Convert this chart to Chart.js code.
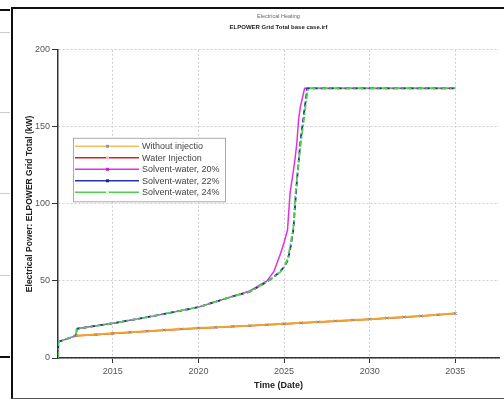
<!DOCTYPE html>
<html>
<head>
<meta charset="utf-8">
<script src="https://cdn.jsdelivr.net/npm/chart.js@4.4.1/dist/chart.umd.min.js"></script>
<style>
  html, body { margin: 0; padding: 0; background: #fff; }
  body { width: 504px; height: 399px; overflow: hidden; position: relative; }
  .frame { position: absolute; left: 11px; top: 7px; width: 500px; height: 389px;
           border-top: 2px solid #111; border-left: 2px solid #111; border-bottom: 1px solid #555; }
  .tab { position: absolute; left: 0; width: 10px; height: 1px; background: #ccc; }
  .tab.dark { background: #111; height: 2px; }
  #wrap { position: absolute; left: 0; top: 0; width: 504px; height: 399px; }
</style>
</head>
<body>
<div class="tab dark" style="top:9px"></div>
<div class="tab" style="top:32px"></div>
<div class="tab" style="top:112px"></div>
<div class="tab" style="top:193px"></div>
<div class="tab" style="top:275px"></div>
<div class="tab dark" style="top:356px"></div>
<div class="frame"></div>
<div id="wrap"><canvas id="elpower-canvas" width="504" height="399"></canvas></div>
<script>
// yearly samples for the two base cases
const baseYears = [2012.85, 2014, 2015, 2016, 2017, 2018, 2019, 2020, 2021, 2022, 2023, 2024,
                   2025, 2026, 2027, 2028, 2029, 2030, 2031, 2032, 2033, 2034, 2035];
const withoutInjection = [14.5, 15.2, 16.0, 16.7, 17.4, 18.1, 18.8, 19.4, 19.9, 20.5, 21.0, 21.6,
                          22.2, 22.8, 23.4, 24.0, 24.6, 25.2, 25.9, 26.6, 27.3, 28.1, 29.0];
const waterInjection = [14.4, 15.1, 15.9, 16.6, 17.3, 18.0, 18.7, 19.3, 19.8, 20.4, 20.9, 21.5,
                        22.1, 22.7, 23.3, 23.9, 24.5, 25.1, 25.8, 26.5, 27.2, 28.0, 28.9];

// solvent-water cases share one time axis
const solventYears = [2011.8, 2011.82, 2012.85, 2012.9, 2015, 2017.5, 2020, 2021, 2022, 2023, 2024,
                      2024.4, 2024.8, 2025, 2025.2, 2025.35, 2025.55, 2025.65, 2025.75, 2025.85,
                      2025.95, 2026.2, 2026.25, 2026.35, 2026.4, 2035];
const solvent20 = [0, 10.5, 14.5, 19, 22.5, 27.5, 33, 36.5, 40, 43.5, 50,
                   56, 68, 75, 83, 107, 122, 130, 140, 155,
                   163, 175, 175, 175, 175, 175];
const solvent22 = [0, 10.5, 14.5, 19, 22.5, 27.5, 33, 36.5, 40, 43, 49.5,
                   52.5, 56.5, 59, 63, 70, 84, 100, 115, 127,
                   140, 162, 166, 175, 175, 175];
const solvent24 = [0, 10.5, 14.5, 19, 22.5, 27.5, 33, 36.5, 40, 43, 49.5,
                   52.5, 56, 59, 64, 72, 85, 105, 116, 127,
                   137, 158, 163, 171, 175, 175];

const seriesLabels = ['Without injectio', 'Water Injection', 'Solvent-water, 20%',
                      'Solvent-water, 22%', 'Solvent-water, 24%'];
const xTicks = [2015, 2020, 2025, 2030, 2035];

function points(xs, ys){
  return xs.map((x, i) => ({x: x, y: ys[i]}));
}

const FONT = '"Liberation Sans", Arial, sans-serif';

// legend box floating inside the plot, like the simulator output
const boxLegend = {
  id: 'boxLegend',
  afterDatasetsDraw(chart){
    const ctx = chart.ctx;
    const area = chart.chartArea;
    const left = area.left + 15, top = area.top + 88;
    const w = 152, rowH = 11.5;
    const h = rowH * seriesLabels.length + 6;
    ctx.save();
    ctx.fillStyle = '#fff';
    ctx.fillRect(left, top, w, h);
    ctx.strokeStyle = '#aaa';
    ctx.lineWidth = 1;
    ctx.strokeRect(left + 0.5, top + 0.5, w, h);
    ctx.font = '9px ' + FONT;
    ctx.textBaseline = 'middle';
    chart.data.datasets.forEach((ds, i) => {
      const y = top + 8.5 + i * rowH;
      ctx.strokeStyle = ds.legendColor || ds.borderColor;
      ctx.lineWidth = 1.5;
      ctx.setLineDash([]);
      ctx.beginPath();
      ctx.moveTo(left + 2, y);
      ctx.lineTo(left + 66, y);
      ctx.stroke();
      ctx.fillStyle = ds.markColor;
      ctx.fillRect(left + 33, y - 1.5, 3, 3);
      ctx.fillStyle = '#444';
      ctx.fillText(ds.label, left + 69, y + 0.5);
    });
    ctx.restore();
  }
};

const ctx = document.getElementById('elpower-canvas');
const myChart = new Chart(ctx, {
  type: 'line',
  plugins: [boxLegend],
  data: {
    datasets: [{
      label: seriesLabels[0],
      data: points(baseYears, withoutInjection),
      borderColor: '#f2a52e',
      legendColor: '#f5bf5e',
      markColor: '#999',
      borderWidth: 2,
      pointStyle: 'crossRot',
      pointRadius: 2,
      pointBorderColor: '#8a8a8a',
      pointBorderWidth: 1,
      order: 0
    }, {
      label: seriesLabels[1],
      data: points(baseYears, waterInjection),
      borderColor: '#d42222',
      markColor: '#f3c0c0',
      borderWidth: 1.5,
      pointRadius: 0,
      order: 4
    }, {
      label: seriesLabels[2],
      data: points(solventYears, solvent20),
      borderColor: '#e030e6',
      markColor: '#c020c8',
      borderWidth: 1.5,
      pointRadius: 0,
      order: 3
    }, {
      label: seriesLabels[3],
      data: points(solventYears, solvent22),
      borderColor: '#1f2a9c',
      legendColor: '#2233b0',
      markColor: '#1a2590',
      borderWidth: 1.8,
      borderDash: [5, 3],
      pointRadius: 0,
      order: 2
    }, {
      label: seriesLabels[4],
      data: points(solventYears, solvent24),
      borderColor: '#4fd04f',
      markColor: '#d8f5d8',
      borderWidth: 1.8,
      borderDash: [6, 2, 2, 2],
      pointRadius: 0,
      order: 1
    }]
  },
  options: {
    animation: false,
    responsive: false,
    events: [],
    layout: { padding: 0 },
    plugins: {
      legend: { display: false },
      tooltip: { enabled: false },
      title: {
        display: true,
        fullSize: false,
        text: 'Electrical Heating',
        color: '#666',
        font: { family: FONT, size: 5.5, weight: 'normal' },
        padding: { top: 13, bottom: 4 }
      },
      subtitle: {
        display: true,
        fullSize: false,
        text: 'ELPOWER Grid Total base case.irf',
        color: '#222',
        font: { family: FONT, size: 6, weight: 'bold' },
        padding: { top: 0, bottom: 19 }
      }
    },
    scales: {
      x: {
        type: 'linear',
        min: 2011.8,
        max: 2037.55,
        afterBuildTicks: (scale) => { scale.ticks = xTicks.map(v => ({value: v})); },
        afterFit: (scale) => { scale.height = 41; },
        ticks: {
          color: '#555',
          font: { family: FONT, size: 9 },
          padding: 3,
          maxRotation: 0,
          callback: (v) => String(v)
        },
        grid: {
          color: '#cfcfcf',
          tickColor: '#333',
          tickLength: 5,
          tickBorderDash: []
        },
        border: { color: '#333', width: 1.5, dash: [2, 2] },
        title: {
          display: true,
          text: 'Time (Date)',
          color: '#222',
          font: { family: FONT, size: 9, weight: 'bold' },
          padding: { top: 8, bottom: 8 }
        }
      },
      y: {
        min: 0,
        max: 200,
        afterFit: (scale) => { scale.width = 58; },
        ticks: {
          stepSize: 50,
          color: '#555',
          font: { family: FONT, size: 9 },
          padding: 2
        },
        grid: {
          color: '#cfcfcf',
          tickColor: '#333',
          tickLength: 6,
          tickBorderDash: []
        },
        border: { color: '#333', width: 1.5, dash: [2, 2] },
        title: {
          display: true,
          text: 'Electrical Power: ELPOWER Grid Total (kW)',
          color: '#222',
          font: { family: FONT, size: 8.5, weight: 'bold' },
          padding: { top: 25, bottom: 0 }
        }
      }
    }
  }
});
</script>
</body>
</html>
